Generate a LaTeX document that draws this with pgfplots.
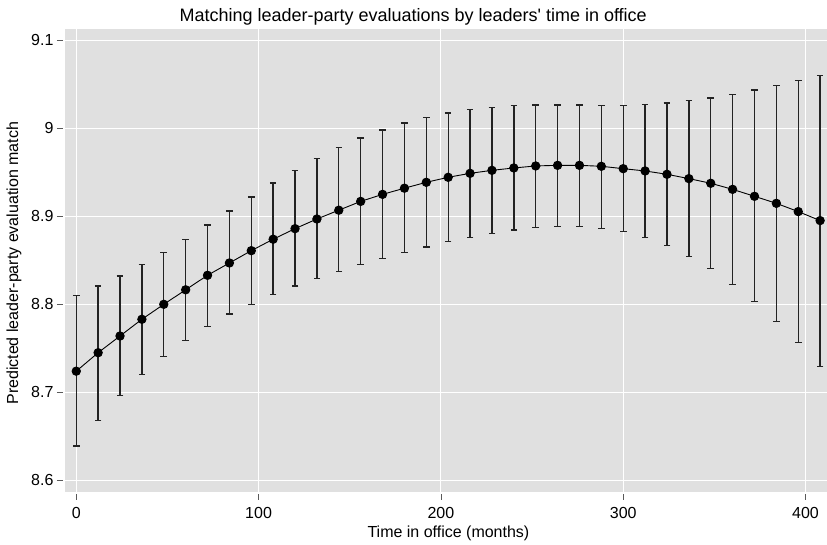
\documentclass[border=0pt]{standalone}
\usepackage{pgfplots}
\pgfplotsset{compat=1.18}
\usepackage{pgfplotstable}
\usepackage{fontspec}
\setmainfont{Liberation Sans}
\definecolor{bg}{RGB}{224,224,224}
\definecolor{tk}{RGB}{90,90,90}
\definecolor{eb}{RGB}{35,35,35}
\pgfplotstableread{
x y lo hi
0 8.724 8.639 8.810
12 8.745 8.668 8.821
24 8.764 8.696 8.832
36 8.783 8.720 8.845
48 8.800 8.741 8.859
60 8.8165 8.759 8.874
72 8.833 8.775 8.890
84 8.847 8.789 8.906
96 8.861 8.800 8.922
108 8.874 8.811 8.938
120 8.886 8.821 8.952
132 8.897 8.829 8.966
144 8.907 8.837 8.978
156 8.917 8.845 8.989
168 8.925 8.852 8.998
180 8.932 8.859 9.006
192 8.9387 8.8653 9.0125
204 8.9444 8.8713 9.0175
216 8.9489 8.8759 9.0216
228 8.9523 8.8808 9.0239
240 8.955 8.8846 9.0258
252 8.9573 8.8872 9.0266
264 8.958 8.8887 9.0266
276 8.958 8.8887 9.0266
288 8.9569 8.8865 9.0261
300 8.9542 8.8827 9.0261
312 8.9516 8.8759 9.0273
324 8.9478 8.8668 9.0288
336 8.9429 8.8547 9.0318
348 8.9376 8.8404 9.0345
360 8.9307 8.8225 9.0386
372 8.9228 8.8029 9.0436
384 8.9148 8.7805 9.0485
396 8.9054 8.7563 9.0545
408 8.8952 8.7291 9.0602
}\datatable
\begin{document}
\begin{tikzpicture}
\begin{axis}[
  name=ax,
  width=762pt, height=463pt, scale only axis,
  xmin=-6.2, xmax=411.5, ymin=8.587, ymax=9.113,
  xtick={0,100,200,300,400},
  ytick={8.6,8.7,8.8,8.9,9.0,9.1},
  yticklabels={8.6,8.7,8.8,8.9,9,9.1},
  /pgf/number format/assume math mode=true,
  ticklabel style={font=\fontsize{16}{19}\selectfont},
  xticklabel shift=6pt,
  yticklabel shift=2pt,
  axis background/.style={fill=bg},
  axis line style={draw=none},
  grid=major,
  major grid style={draw=white, line width=1pt},
  tick align=outside,
  tick pos=left,
  major tick length=6pt,
  tick style={draw=tk, line width=0.8pt},
  x tick style={yshift=-2pt},
  y tick style={xshift=-2pt},
  clip=false,
]
\addplot[black, line width=0.9pt, mark=*, mark size=4.2pt,
  mark options={fill=black},
  error bars/.cd, y dir=both, y explicit,
  error bar style={draw=eb, line width=1.35pt},
  error mark options={rotate=90, mark size=3.3pt, draw=eb, line width=1.35pt}]
  table[x=x, y=y, y error plus expr=\thisrow{hi}-\thisrow{y}, y error minus expr=\thisrow{y}-\thisrow{lo}] {\datatable};
\end{axis}
\path (ax.south west) ++(-65pt,-48.7pt) coordinate (bbsw);
\path (ax.north east) ++(0pt,29pt) coordinate (bbne);
\node[anchor=base, font=\fontsize{18}{21}\selectfont] at ([xshift=-32.5pt, yshift=7.3pt]ax.north) {Matching leader-party evaluations by leaders\textquotesingle{} time in office};
\node[anchor=base, font=\fontsize{16}{19}\selectfont] at ([xshift=2.7pt, yshift=-46pt]ax.south) {Time in office (months)};
\node[rotate=90, anchor=center, font=\fontsize{16}{19}\selectfont] at ([xshift=-51pt, yshift=-3pt]ax.west) {Predicted leader-party evaluation match};
\end{tikzpicture}
\end{document}
